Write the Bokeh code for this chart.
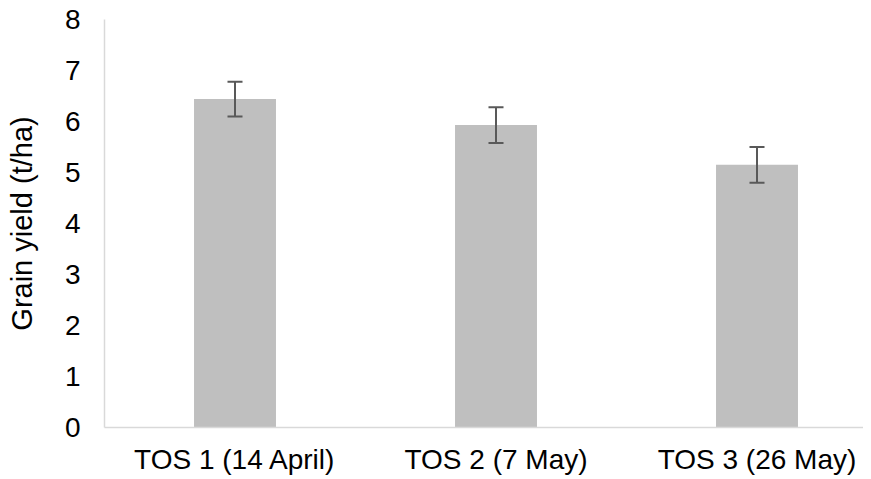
from bokeh.plotting import figure
from bokeh.models import Range1d, FixedTicker, Whisker, ColumnDataSource
from bokeh.embed import file_html
from bokeh.resources import INLINE

categories = ["TOS 1 (14 April)", "TOS 2 (7 May)", "TOS 3 (26 May)"]
yields = [6.44, 5.93, 5.15]
errors = [0.34, 0.35, 0.35]
y_ticks = [0, 1, 2, 3, 4, 5, 6, 7, 8]

xs = list(range(len(categories)))
src = ColumnDataSource(dict(
    x=xs, top=yields,
    upper=[v + e for v, e in zip(yields, errors)],
    lower=[v - e for v, e in zip(yields, errors)],
))

FONT = "Liberation Sans"
FS = "28px"

p = figure(frame_width=759, frame_height=408, output_backend="svg", toolbar_location=None,
           x_range=Range1d(-0.5, -0.5 + 759 / 261), y_range=Range1d(0, 8),
           min_border_left=104, min_border_right=0, min_border_top=19, min_border_bottom=30)
p.outline_line_color = None
p.grid.visible = False
p.background_fill_color = "white"
p.border_fill_color = "white"

p.vbar(x="x", top="top", bottom=0, width=0.314, source=src, fill_color="#bfbfbf", line_color=None)
w = Whisker(base="x", upper="upper", lower="lower", source=src, line_color="#595959", line_width=2,
            level="overlay")
for h in (w.upper_head, w.lower_head):
    h.size = 15
    h.line_color = "#595959"
    h.line_width = 2
p.add_layout(w)

p.xaxis.ticker = FixedTicker(ticks=xs)
p.xaxis.major_label_overrides = {i: c for i, c in enumerate(categories)}
p.yaxis.ticker = FixedTicker(ticks=y_ticks)

for ax in (p.xaxis[0], p.yaxis[0]):
    ax.axis_line_color = "#d9d9d9"
    ax.axis_line_width = 1.5
    ax.major_tick_line_color = None
    ax.minor_tick_line_color = None
    ax.major_label_text_font = FONT
    ax.major_label_text_font_size = FS
    ax.major_label_text_color = "black"

p.xaxis.major_label_standoff = 10
p.yaxis.major_label_standoff = 18
p.yaxis.axis_label = "Grain yield (t/ha)"
p.yaxis.axis_label_text_font = FONT
p.yaxis.axis_label_text_font_size = "29px"
p.yaxis.axis_label_text_font_style = "normal"
p.yaxis.axis_label_text_color = "black"
p.yaxis.axis_label_standoff = 24

open("out.html", "w").write(file_html(p, INLINE))
